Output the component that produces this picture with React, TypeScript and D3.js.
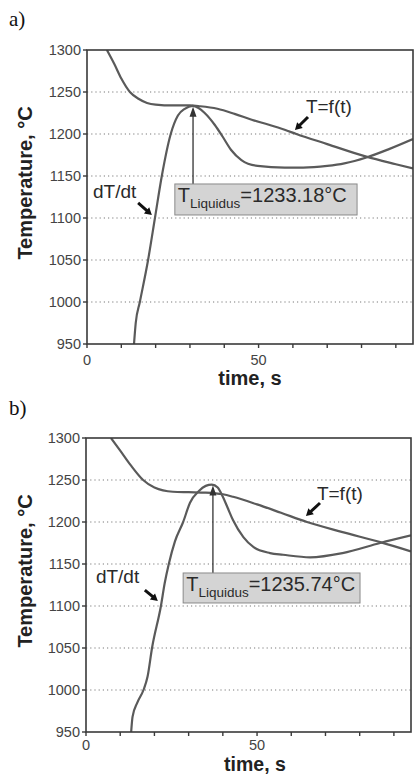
import React from 'react';
import * as d3 from 'd3';

// ---------- data ----------
const timeTicks = [0, 10, 20, 30, 40, 50, 60, 70, 80, 90];
const timeLabelled = [0, 50];
const tempTicks = [950, 1000, 1050, 1100, 1150, 1200, 1250, 1300];
const gridTemps = [1000, 1050, 1100, 1150, 1200, 1250];

// panel a
const coolTimeA = [5.8, 8, 10, 12.5, 15, 17.5, 20, 25, 30, 33, 38, 43, 48, 53, 57.6, 61, 70, 81.4, 90, 95];
const coolTempA = [1300, 1283, 1266, 1250, 1242, 1237, 1235, 1234, 1234, 1233, 1230, 1224, 1217, 1211, 1205, 1200, 1188, 1173, 1164, 1159];
const derivTimeA = [13.7, 14.2, 15.4, 17.8, 19.8, 21.8, 24.4, 26.5, 28.5, 30.8, 32.5, 34.3, 37.2, 39.5, 42, 45, 49.7, 57.6, 63, 70, 75, 81.4, 88, 95];
const derivTempA = [950, 975, 1000, 1050, 1100, 1150, 1200, 1222, 1230, 1233.5, 1231, 1225, 1211, 1197, 1181, 1169, 1162, 1160, 1160, 1162, 1165, 1172, 1182, 1194];
const liquidusA = '=1233.18°C';

// panel b
const coolTimeB = [7.3, 10, 13, 16.7, 20, 25.4, 30, 35, 40, 43, 50, 57, 64.6, 75, 86, 95];
const coolTempB = [1300, 1285, 1268, 1250, 1241, 1236, 1235.5, 1235, 1233, 1230, 1221, 1211, 1200, 1188, 1176, 1165];
const derivTimeB = [13.2, 13.6, 15, 16.8, 18, 19.3, 21.9, 23, 24.2, 26, 28.4, 30.4, 33, 35, 36.8, 38.5, 40, 41.5, 43, 46, 49, 53.8, 57.6, 65.5, 75, 86, 95];
const derivTempB = [950, 968, 985, 1000, 1016, 1050, 1100, 1127, 1150, 1177, 1200, 1223, 1237, 1243, 1244.5, 1241, 1230, 1216, 1202, 1182, 1170, 1163, 1161, 1158, 1163, 1175, 1184];
const liquidusB = '=1235.74°C';

const SANS = '"Liberation Sans", Arial, Helvetica, sans-serif';
const CURVE = '#5a5a5a';
const FRAME = '#3a3a3a';

function arrowPoly(x1: number, y1: number, x2: number, y2: number, shaft: number, headLen: number, headW: number) {
  const dx = x2 - x1, dy = y2 - y1;
  const L = Math.hypot(dx, dy);
  const ux = dx / L, uy = dy / L;
  const px = -uy, py = ux;
  const bx = x2 - ux * headLen, by = y2 - uy * headLen;
  const pts = [
    [x1 + px * shaft / 2, y1 + py * shaft / 2],
    [bx + px * shaft / 2, by + py * shaft / 2],
    [bx + px * headW / 2, by + py * headW / 2],
    [x2, y2],
    [bx - px * headW / 2, by - py * headW / 2],
    [bx - px * shaft / 2, by - py * shaft / 2],
    [x1 - px * shaft / 2, y1 - py * shaft / 2],
  ];
  return 'M' + pts.map(p => p[0].toFixed(2) + ',' + p[1].toFixed(2)).join('L') + 'Z';
}

type PanelProps = {
  id: string;
  letter: string;
  letterY: number;
  left: number; top: number; right: number; bottom: number;
  coolT: number[]; coolV: number[];
  derT: number[]; derV: number[];
  liq: string;
  peak: [number, number];
  box: [number, number, number, number]; // t0, t1, Ttop, Tbottom
  dtText: [number, number];
  dtArrow: [number, number, number, number];
  tfText: [number, number];
  tfArrow: [number, number, number, number];
  yTitleY: number;
  xTitleX: number;
  xTitleDy: number;
  xTitleSize: number;
  xLabelDy: number;
};

function Panel(p: PanelProps) {
  const x = d3.scaleLinear().domain([0, 95]).range([p.left, p.right]);
  const y = d3.scaleLinear().domain([950, 1300]).range([p.bottom, p.top]);
  const line = d3.line<[number, number]>().x(d => x(d[0])).y(d => y(d[1])).curve(d3.curveMonotoneX);
  const cool = line(p.coolT.map((t, i) => [t, p.coolV[i]] as [number, number])) || '';
  const der = line(p.derT.map((t, i) => [t, p.derV[i]] as [number, number])) || '';
  const bx0 = x(p.box[0]), bx1 = x(p.box[1]), by0 = y(p.box[2]), by1 = y(p.box[3]);
  const px = x(p.peak[0]), py = y(p.peak[1]);
  return (
    <g>
      <defs>
        <clipPath id={'clip-' + p.id}>
          <rect x={p.left} y={p.top} width={p.right - p.left} height={p.bottom - p.top} />
        </clipPath>
      </defs>
      <text x={9} y={p.letterY} fontFamily='"Liberation Serif", "Times New Roman", serif' fontSize={21} fill="#111">{p.letter}</text>
      {gridTemps.map(v => (
        <line key={'g' + v} x1={p.left} x2={p.right} y1={y(v)} y2={y(v)} stroke="#7a7a7a" strokeWidth={1.2} strokeDasharray="1.2 3" />
      ))}
      <g clipPath={`url(#clip-${p.id})`}>
        <path d={cool} fill="none" stroke={CURVE} strokeWidth={2.2} />
        <path d={der} fill="none" stroke={CURVE} strokeWidth={2.2} />
      </g>
      <rect x={p.left} y={p.top} width={p.right - p.left} height={p.bottom - p.top} fill="none" stroke={FRAME} strokeWidth={1.6} />
      {tempTicks.map(v => (
        <g key={'yt' + v}>
          <line x1={p.left - 4} x2={p.left} y1={y(v)} y2={y(v)} stroke={FRAME} strokeWidth={1.4} />
          <text x={p.left - 6} y={y(v) + 5} textAnchor="end" fontFamily={SANS} fontSize={14.5} fill="#444">{v}</text>
        </g>
      ))}
      {timeTicks.map(v => (
        <line key={'xt' + v} x1={x(v)} x2={x(v)} y1={p.bottom} y2={p.bottom + 4} stroke={FRAME} strokeWidth={1.4} />
      ))}
      {timeLabelled.map(v => (
        <text key={'xl' + v} x={x(v)} y={p.bottom + p.xLabelDy} textAnchor="middle" fontFamily={SANS} fontSize={14.5} fill="#444">{v}</text>
      ))}
      <text x={p.xTitleX} y={p.bottom + p.xTitleDy} textAnchor="middle" fontFamily={SANS} fontWeight="bold" fontSize={p.xTitleSize} fill="#222">time, s</text>
      <text transform={`translate(32,${p.yTitleY}) rotate(-90)`} textAnchor="middle" fontFamily={SANS} fontWeight="bold" fontSize={20} fill="#222">Temperature, °C</text>
      {/* liquidus arrow */}
      <path d={arrowPoly(px, by0, px, py + 1, 1.3, 10, 7)} fill="#333" />
      <rect x={bx0} y={by0} width={bx1 - bx0} height={by1 - by0} fill="#d4d4d4" stroke="#8a8a8a" strokeWidth={1} />
      <text x={bx0 + 3} y={by0 + 18} fontFamily={SANS} fill="#2a2a2a">
        <tspan fontSize={20}>T</tspan>
        <tspan fontSize={13.5} dy={6}>Liquidus</tspan>
        <tspan fontSize={20} dy={-6}>{p.liq}</tspan>
      </text>
      <text x={x(p.dtText[0])} y={y(p.dtText[1])} fontFamily={SANS} fontSize={19} fill="#2a2a2a">dT/dt</text>
      <path d={arrowPoly(x(p.dtArrow[0]), y(p.dtArrow[1]), x(p.dtArrow[2]), y(p.dtArrow[3]), 3, 7, 8)} fill="#111" />
      <text x={x(p.tfText[0])} y={y(p.tfText[1])} fontFamily={SANS} fontSize={19} fill="#2a2a2a">T=f(t)</text>
      <path d={arrowPoly(x(p.tfArrow[0]), y(p.tfArrow[1]), x(p.tfArrow[2]), y(p.tfArrow[3]), 3, 7, 8)} fill="#111" />
    </g>
  );
}

export default function App() {
  return (
    <svg width={414} height={774} style={{ position: 'absolute', left: 0, top: 0, background: '#fff' }}>
      <rect x={0} y={0} width={414} height={774} fill="#fff" />
      <Panel id="a" letter="a)" letterY={26} left={87} top={50} right={413} bottom={344}
        coolT={coolTimeA} coolV={coolTempA} derT={derivTimeA} derV={derivTempA}
        liq={liquidusA} peak={[30.9, 1233.5]} box={[25.6, 78.7, 1140.5, 1103.6]}
        dtText={[1.75, 1124]} dtArrow={[14.9, 1117.9, 18.9, 1103.6]}
        tfText={[63.8, 1225]} tfArrow={[64.4, 1220.2, 60.6, 1204.8]}
        yTitleY={183} xTitleX={250} xTitleDy={41} xTitleSize={20} xLabelDy={21} />
      <Panel id="b" letter="b)" letterY={415} left={86} top={438} right={411} bottom={732}
        coolT={coolTimeB} coolV={coolTempB} derT={derivTimeB} derV={derivTempB}
        liq={liquidusB} peak={[37.1, 1244.5]} box={[28.4, 80.1, 1139.3, 1103.6]}
        dtText={[2.9, 1127.4]} dtArrow={[17.2, 1119, 21.0, 1106]}
        tfText={[67.5, 1226.2]} tfArrow={[68.4, 1222.6, 64.3, 1207.1]}
        yTitleY={571} xTitleX={255} xTitleDy={39} xTitleSize={19.5} xLabelDy={18} />
    </svg>
  );
}
